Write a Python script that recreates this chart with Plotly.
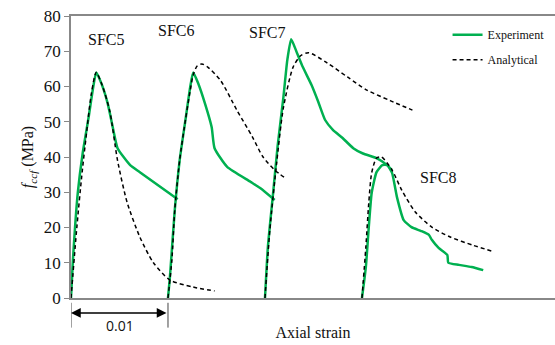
import plotly.graph_objects as go

# Relative axial strain for each specimen (curves are shifted by OFFSET each)
OFFSET = 0.01
specimens = ["SFC5", "SFC6", "SFC7", "SFC8"]

sfc5_exp_strain = [0.0, 0.0002, 0.0007, 0.0012, 0.0018, 0.0023, 0.0026, 0.0032, 0.0038, 0.0043, 0.0048, 0.0061, 0.0071, 0.0110]
sfc5_exp_stress = [0, 10.8, 29.8, 41, 51, 60, 64, 60.4, 55, 48.5, 42.5, 37.7, 35.7, 28]
sfc5_ana_strain = [0.0, 0.0006, 0.0011, 0.0016, 0.0021, 0.0026, 0.0032, 0.0040, 0.0048, 0.0058, 0.0071, 0.0085, 0.0102, 0.0126, 0.0148]
sfc5_ana_stress = [0, 20, 34.4, 46.8, 58, 64, 60.5, 53, 39, 27, 17.3, 10, 5.1, 3.1, 2.0]

sfc6_exp_strain = [0.0, 0.0002, 0.0007, 0.0012, 0.0018, 0.0023, 0.0026, 0.0031, 0.0038, 0.0045, 0.0048, 0.0061, 0.0085, 0.0095, 0.0110]
sfc6_exp_stress = [0, 6, 25, 39, 50.5, 60, 64, 61, 55.3, 48.5, 42.5, 37.2, 33, 31.2, 27.8]
sfc6_ana_strain = [0.0, 0.0004, 0.0007, 0.0012, 0.0018, 0.0023, 0.0026, 0.0030, 0.0035, 0.0041, 0.0054, 0.0071, 0.0087, 0.0098, 0.0110, 0.0121]
sfc6_ana_stress = [0, 10.8, 25, 39, 50.5, 59, 63.3, 65.8, 66.4, 65.5, 61.8, 53.3, 45.7, 40, 36.3, 34]

sfc7_exp_strain = [0.0, 0.0003, 0.0008, 0.0013, 0.0019, 0.0023, 0.0027, 0.0033, 0.0039, 0.0048, 0.0055, 0.0062, 0.0070, 0.0080, 0.0091, 0.0101, 0.0115, 0.0126, 0.0131]
sfc7_exp_stress = [0, 14.5, 28.7, 43, 57, 67.5, 73.4, 69.5, 65.5, 60.4, 55.6, 50.5, 47.7, 45.4, 42.5, 41, 39.7, 37.7, 36.3]
sfc7_ana_strain = [0.0, 0.0005, 0.0012, 0.0019, 0.0029, 0.0037, 0.0045, 0.0064, 0.0085, 0.0105, 0.0129, 0.0152]
sfc7_ana_stress = [0, 19.3, 38.3, 54, 65.5, 68.8, 69.6, 66.7, 62.7, 59, 56, 53.3]

sfc8_exp_strain = [0.0, 0.0004, 0.0007, 0.0010, 0.0015, 0.0021, 0.0026, 0.0031, 0.0036, 0.0043, 0.0051, 0.0061, 0.0069, 0.0072, 0.0079, 0.0088, 0.0089, 0.0100, 0.0113, 0.0125]
sfc8_exp_stress = [0, 8.8, 20.1, 29.8, 35.7, 37.7, 37.7, 35.5, 28.7, 22.1, 20.1, 19, 17.9, 16.5, 14.2, 12.2, 10, 9.4, 8.8, 7.9]
sfc8_ana_strain = [0.0, 0.0004, 0.0007, 0.0010, 0.0015, 0.0020, 0.0031, 0.0041, 0.0055, 0.0072, 0.0091, 0.0114, 0.0134]
sfc8_ana_stress = [0, 14.5, 27, 35.5, 39.7, 40, 36.3, 30.6, 24.4, 20.1, 17.3, 15, 13.3]

exp_data = [(sfc5_exp_strain, sfc5_exp_stress), (sfc6_exp_strain, sfc6_exp_stress),
            (sfc7_exp_strain, sfc7_exp_stress), (sfc8_exp_strain, sfc8_exp_stress)]
ana_data = [(sfc5_ana_strain, sfc5_ana_stress), (sfc6_ana_strain, sfc6_ana_stress),
            (sfc7_ana_strain, sfc7_ana_stress), (sfc8_ana_strain, sfc8_ana_stress)]

label_pos = [(0.00358, 73.2), (0.01082, 76.0), (0.02018, 75.2), (0.03784, 34.3)]

SERIF = "Liberation Serif"
GREEN = "#00B050"

fig = go.Figure()
for i, (xs, ys) in enumerate(exp_data):
    fig.add_trace(go.Scatter(
        x=[x + i * OFFSET for x in xs], y=ys, mode="lines",
        line=dict(color=GREEN, width=2.5, shape="spline", smoothing=0.5),
        name="Experiment", legendgroup="exp", showlegend=(i == 0)))
for i, (xs, ys) in enumerate(ana_data):
    fig.add_trace(go.Scatter(
        x=[x + i * OFFSET for x in xs], y=ys, mode="lines",
        line=dict(color="black", width=1.5, dash="4px,3px", shape="spline", smoothing=0.7),
        name="Analytical", legendgroup="ana", showlegend=(i == 0)))

for name, (lx, ly) in zip(specimens, label_pos):
    fig.add_annotation(x=lx, y=ly, text=name, showarrow=False,
                       font=dict(family=SERIF, size=16, color="#111"))

# Scale bar: 0.01 strain
fig.add_annotation(x=0, y=-0.053, xref="x", yref="paper", ax=OFFSET, ay=0,
                   axref="x", ayref="pixel", text="", showarrow=True,
                   arrowhead=2, arrowside="end+start", arrowsize=1.3, arrowwidth=1.5,
                   arrowcolor="black", standoff=0, startstandoff=0)
for xv in [0, OFFSET]:
    fig.add_shape(type="line", xref="x", yref="paper", x0=xv, x1=xv, y0=-0.017, y1=-0.105,
                  line=dict(color="#444", width=1))
fig.add_annotation(x=OFFSET / 2, y=-0.096, xref="x", yref="paper", text="0.01",
                   showarrow=False, yanchor="middle",
                   font=dict(family="Open Sans", size=14, color="#111"))

fig.update_layout(
    width=555, height=345,
    margin=dict(l=71, r=0, t=16, b=47),
    paper_bgcolor="white", plot_bgcolor="white",
    font=dict(family=SERIF, size=16, color="#111"),
    showlegend=True,
    legend=dict(x=0.778, y=0.985, xanchor="left", yanchor="top",
                font=dict(family=SERIF, size=12, color="#111"),
                bgcolor="rgba(0,0,0,0)", tracegroupgap=6),
    xaxis=dict(range=[0, 0.0499], showticklabels=False, ticks="", showgrid=False,
               zeroline=False, showline=True, linecolor="#888", linewidth=1.5, mirror=True,
               title=dict(text="Axial strain", standoff=28,
                          font=dict(family=SERIF, size=16, color="#111"))),
    yaxis=dict(range=[0, 80], dtick=10, ticks="outside", ticklen=5, tickcolor="#888",
               showgrid=False, zeroline=False, showline=True, linecolor="#888", linewidth=1.5,
               tickfont=dict(family=SERIF, size=17, color="#111"),
               title=dict(text="<i>f<sub>ccf</sub></i> (MPa)", standoff=6,
                          font=dict(family=SERIF, size=16, color="#111"))),
)

fig.write_html("out.html")
